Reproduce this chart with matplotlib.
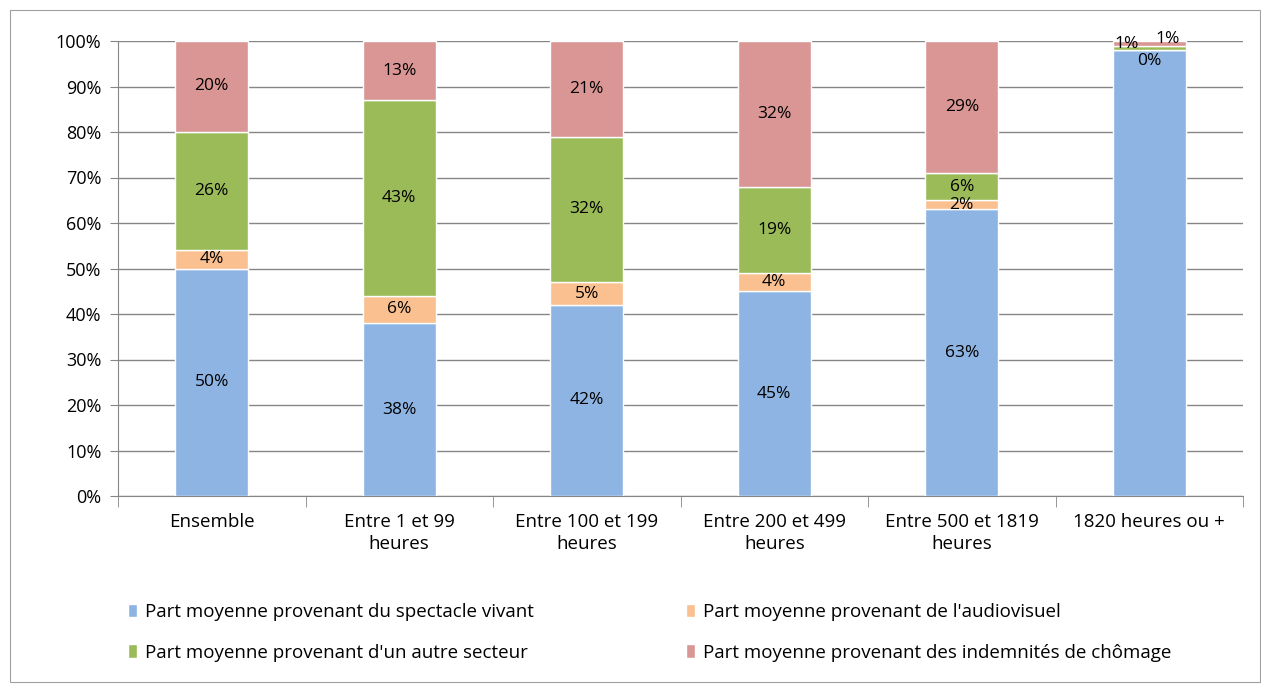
import numpy as np
import matplotlib.pyplot as plt
from matplotlib.patches import Rectangle

categories = ['Ensemble', 'Entre 1 et 99\nheures', 'Entre 100 et 199\nheures',
              'Entre 200 et 499\nheures', 'Entre 500 et 1819\nheures', '1820 heures ou +']
spectacle = [50, 38, 42, 45, 63, 98]
audiovisuel = [4, 6, 5, 4, 2, 0]
autre = [26, 43, 32, 19, 6, 1]
chomage = [20, 13, 21, 32, 29, 1]
series_names = ['Part moyenne provenant du spectacle vivant',
                "Part moyenne provenant de l'audiovisuel",
                "Part moyenne provenant d'un autre secteur",
                'Part moyenne provenant des indemnités de chômage']
colors = ['#8DB4E2', '#FAC090', '#9BBB59', '#D99694']

plt.rcParams['font.family'] = ['Open Sans', 'DejaVu Sans']

fig = plt.figure(figsize=(12.61, 6.84), dpi=100)
ax = fig.add_axes([118/1261, 1-496/684, (1243-118)/1261, (496-41)/684])
fig.patches.append(Rectangle((10/1261, 1-682/684), 1250/1261, 672/684, transform=fig.transFigure,
                             fill=False, edgecolor='#A0A0A0', lw=0.8))

x = np.arange(len(categories))
bottom = np.zeros(len(categories))
data = [spectacle, audiovisuel, autre, chomage]
bars = []
for i, vals in enumerate(data):
    vals = np.array(vals)
    b = ax.bar(x, vals, 0.39, bottom=bottom, color=colors[i], edgecolor='white', lw=1,
               label=series_names[i], zorder=3)
    bars.append(b)
    for j, v in enumerate(vals):
        if j == 5:
            continue
        ax.text(x[j], bottom[j] + v/2, f'{v}%', ha='center', va='center', fontsize=12.5, zorder=4)
    bottom += vals

# crowded labels on the last bar
ax.text(x[5], 95.6, f'{audiovisuel[5]}%', ha='center', va='center', fontsize=12.5, zorder=4)
ax.text(x[5] - 0.12, 99.3, f'{autre[5]}%', ha='center', va='center', fontsize=12.5, zorder=4)
ax.text(x[5] + 0.1, 100.5, f'{chomage[5]}%', ha='center', va='center', fontsize=12.5, zorder=4)

ax.set_xlim(-0.5, len(categories) - 0.5)
ax.set_ylim(0, 100)
ax.set_yticks(range(0, 101, 10))
ax.set_yticklabels([f'{t}%' for t in range(0, 101, 10)], fontsize=13)
ax.yaxis.grid(True, color='#868686', lw=1, zorder=0)
ax.set_xticks(x)
ax.set_xticklabels(categories, fontsize=13.5, linespacing=1.3)
ax.tick_params(axis='x', length=0, pad=12)
ax.tick_params(axis='y', length=6, color='#868686', pad=6)
ax.set_xticks(np.arange(-0.5, len(categories), 1), minor=True)
ax.tick_params(axis='x', which='minor', length=8, color='#868686')
for s in ['top', 'right']:
    ax.spines[s].set_visible(False)
ax.spines['left'].set_color('#868686')
ax.spines['bottom'].set_color('#868686')

leg_kw = dict(frameon=False, fontsize=13.5, handlelength=0.5, handleheight=0.75,
              labelspacing=1.2, handletextpad=0.4, borderaxespad=0, borderpad=0)
leg1 = fig.legend([bars[0], bars[2]], [series_names[0], series_names[2]], loc='upper left',
                  bbox_to_anchor=(128/1261, 1-603/684), **leg_kw)
leg2 = fig.legend([bars[1], bars[3]], [series_names[1], series_names[3]], loc='upper left',
                  bbox_to_anchor=(686/1261, 1-603/684), **leg_kw)

fig.savefig('out.png', dpi=100)
